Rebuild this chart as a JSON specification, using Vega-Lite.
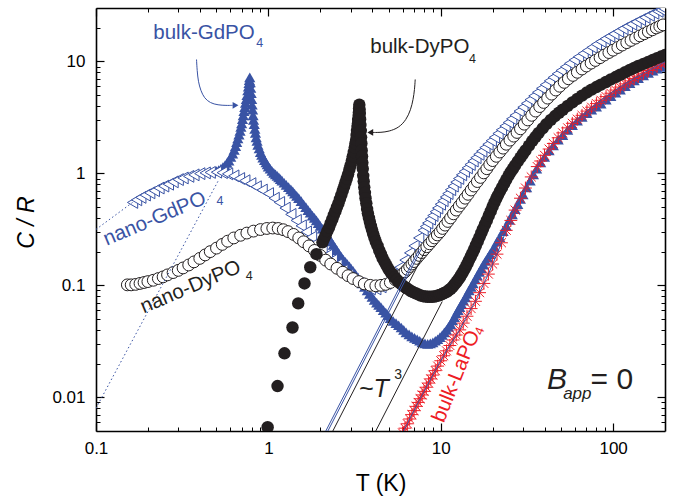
{
  "$schema": "https://vega.github.io/schema/vega-lite/v6.json",
  "width": 569,
  "height": 423,
  "autosize": {"type": "none"},
  "padding": {"left": 96, "top": 8, "right": 9, "bottom": 67},
  "background": "white",
  "config": {
    "view": {"stroke": null},
    "font": "Liberation Sans",
    "axis": {"grid": false, "labelFont": "Liberation Sans", "titleFont": "Liberation Sans", "labelColor": "black", "titleColor": "black", "tickColor": "black", "domainColor": "black", "labelFlush": false, "labelOverlap": false}
  },
  "resolve": {"axis": {"x": "independent", "y": "independent"}},
  "datasets": {
    "bulkGd": [
      {"T":0.50,"C":1.05},{"T":0.515,"C":1.07},{"T":0.53,"C":1.1},{"T":0.545,"C":1.14},{"T":0.56,"C":1.18},{"T":0.575,"C":1.24},{"T":0.59,"C":1.3},{"T":0.605,"C":1.4},{"T":0.62,"C":1.5},{"T":0.633,"C":1.62},{"T":0.645,"C":1.75},{"T":0.655,"C":1.9},{"T":0.665,"C":2.05},{"T":0.675,"C":2.22},{"T":0.685,"C":2.4},{"T":0.693,"C":2.6},{"T":0.70,"C":2.8},{"T":0.708,"C":3.05},{"T":0.715,"C":3.3},{"T":0.722,"C":3.6},{"T":0.73,"C":3.9},{"T":0.737,"C":4.25},{"T":0.745,"C":4.6},{"T":0.752,"C":5.0},{"T":0.76,"C":5.5},{"T":0.766,"C":5.95},{"T":0.772,"C":6.4},{"T":0.776,"C":6.8},{"T":0.78,"C":7.2},
      {"T":0.785,"C":6.5},{"T":0.79,"C":5.8},{"T":0.795,"C":5.2},{"T":0.8,"C":4.6},{"T":0.805,"C":4.1},{"T":0.81,"C":3.7},{"T":0.815,"C":3.3},{"T":0.82,"C":3.0},{"T":0.828,"C":2.75},{"T":0.835,"C":2.5},{"T":0.842,"C":2.3},{"T":0.85,"C":2.1},{"T":0.86,"C":1.95},{"T":0.87,"C":1.8},{"T":0.885,"C":1.67},{"T":0.9,"C":1.55},{"T":0.915,"C":1.46},{"T":0.93,"C":1.38},{"T":0.95,"C":1.31},{"T":0.97,"C":1.25},{"T":0.985,"C":1.2},{"T":1.0,"C":1.15},{"T":1.025,"C":1.1},{"T":1.05,"C":1.05},{"T":1.075,"C":1.01},{"T":1.1,"C":0.98},{"T":1.125,"C":0.95},{"T":1.15,"C":0.92},{"T":1.175,"C":0.89},{"T":1.2,"C":0.86},{"T":1.235,"C":0.825},{"T":1.27,"C":0.79},{"T":1.31,"C":0.755},{"T":1.35,"C":0.72},{"T":1.385,"C":0.69},{"T":1.42,"C":0.66},{"T":1.46,"C":0.63},{"T":1.5,"C":0.6},{"T":1.55,"C":0.565},{"T":1.6,"C":0.53},{"T":1.65,"C":0.5},{"T":1.7,"C":0.47},{"T":1.75,"C":0.445},{"T":1.8,"C":0.42},{"T":1.85,"C":0.4},{"T":1.9,"C":0.38},{"T":1.95,"C":0.36},{"T":2.0,"C":0.34},{"T":2.06,"C":0.32},{"T":2.12,"C":0.3},{"T":2.18,"C":0.282},{"T":2.25,"C":0.265},{"T":2.31,"C":0.247},{"T":2.38,"C":0.23},{"T":2.44,"C":0.217},{"T":2.5,"C":0.205},{"T":2.57,"C":0.192},{"T":2.65,"C":0.18},{"T":2.72,"C":0.17},{"T":2.8,"C":0.162},{"T":2.87,"C":0.155},{"T":2.95,"C":0.148},{"T":3.02,"C":0.141},{"T":3.1,"C":0.135},{"T":3.2,"C":0.126},{"T":3.3,"C":0.118},{"T":3.4,"C":0.111},{"T":3.5,"C":0.104},{"T":3.62,"C":0.097},{"T":3.75,"C":0.09},{"T":3.87,"C":0.084},{"T":4.0,"C":0.079},{"T":4.12,"C":0.074},{"T":4.25,"C":0.07},{"T":4.37,"C":0.067},{"T":4.5,"C":0.064},{"T":4.65,"C":0.06},{"T":4.8,"C":0.057},{"T":4.95,"C":0.054},{"T":5.1,"C":0.051},{"T":5.3,"C":0.048},{"T":5.5,"C":0.046},{"T":5.7,"C":0.044},{"T":5.9,"C":0.042},{"T":6.1,"C":0.04},{"T":6.3,"C":0.038},{"T":6.55,"C":0.0365},{"T":6.8,"C":0.035},{"T":7.05,"C":0.034},{"T":7.3,"C":0.033},{"T":7.55,"C":0.032},{"T":7.8,"C":0.031},{"T":8.1,"C":0.0303},{"T":8.4,"C":0.030},{"T":8.7,"C":0.0303},{"T":9.0,"C":0.031},{"T":9.3,"C":0.032},{"T":9.6,"C":0.033},{"T":9.9,"C":0.0345},{"T":10.2,"C":0.036},{"T":10.5,"C":0.038},{"T":10.8,"C":0.04},{"T":11.1,"C":0.0425},{"T":11.4,"C":0.045},{"T":11.7,"C":0.0485},{"T":12.0,"C":0.052},{"T":12.3,"C":0.056},{"T":12.6,"C":0.06},{"T":12.9,"C":0.064},{"T":13.2,"C":0.068},{"T":13.55,"C":0.073},{"T":13.9,"C":0.078},{"T":14.25,"C":0.084},{"T":14.6,"C":0.09},{"T":15.0,"C":0.097},{"T":15.4,"C":0.104},{"T":15.85,"C":0.113},{"T":16.3,"C":0.122},{"T":16.75,"C":0.132},{"T":17.2,"C":0.142},{"T":17.7,"C":0.153},{"T":18.2,"C":0.165},{"T":18.75,"C":0.177},{"T":19.3,"C":0.19},{"T":19.9,"C":0.205},{"T":20.5,"C":0.22},{"T":21.2,"C":0.245},{"T":22,"C":0.27},{"T":23,"C":0.305},{"T":24,"C":0.34},{"T":25,"C":0.385},{"T":26,"C":0.43},{"T":27,"C":0.48},{"T":28,"C":0.53},{"T":29,"C":0.59},{"T":30,"C":0.65},{"T":31.5,"C":0.75},{"T":33,"C":0.86},{"T":34.5,"C":0.98},{"T":36,"C":1.1},{"T":38,"C":1.25},{"T":40,"C":1.4},{"T":42.5,"C":1.6},{"T":45,"C":1.78},{"T":48,"C":2.0},{"T":51,"C":2.2},{"T":54.5,"C":2.45},{"T":58,"C":2.7},{"T":62,"C":2.95},{"T":66,"C":3.2},{"T":70.5,"C":3.45},{"T":75,"C":3.7},{"T":80,"C":3.95},{"T":85,"C":4.2},{"T":91,"C":4.55},{"T":97,"C":4.9},{"T":103.5,"C":5.25},{"T":110,"C":5.6},{"T":117.5,"C":6.0},{"T":125,"C":6.4},{"T":132.5,"C":6.75},{"T":140,"C":7.1},{"T":150,"C":7.5},{"T":160,"C":7.9},{"T":170,"C":8.25},{"T":180,"C":8.6},{"T":190,"C":8.95},{"T":200,"C":9.3}
    ],
    "laPO": [
      {"T":6.0,"C":0.0048},{"T":6.2,"C":0.0053},{"T":6.4,"C":0.0058},{"T":6.6,"C":0.0064},{"T":6.8,"C":0.007},{"T":7.0,"C":0.0076},{"T":7.2,"C":0.0083},{"T":7.4,"C":0.009},{"T":7.6,"C":0.0097},{"T":7.8,"C":0.0105},{"T":8.0,"C":0.0113},{"T":8.25,"C":0.0123},{"T":8.5,"C":0.0134},{"T":8.75,"C":0.0146},{"T":9.0,"C":0.0158},{"T":9.3,"C":0.0173},{"T":9.6,"C":0.019},{"T":10.0,"C":0.0212},{"T":10.4,"C":0.0235},{"T":10.8,"C":0.026},{"T":11.3,"C":0.029},{"T":11.8,"C":0.0325},{"T":12.3,"C":0.036},{"T":12.9,"C":0.04},{"T":13.5,"C":0.046},{"T":14.2,"C":0.053},{"T":15.0,"C":0.062},{"T":15.9,"C":0.072},{"T":16.8,"C":0.086},{"T":17.8,"C":0.104},{"T":18.9,"C":0.126},{"T":20.0,"C":0.155},{"T":21.2,"C":0.19},{"T":22.5,"C":0.24},{"T":24,"C":0.31},{"T":25.5,"C":0.38},{"T":27,"C":0.47},{"T":29,"C":0.6},{"T":31,"C":0.74},{"T":33.5,"C":0.93},{"T":36.3,"C":1.15},{"T":38,"C":1.29},{"T":40,"C":1.45},{"T":42.5,"C":1.65},{"T":45,"C":1.85},{"T":48,"C":2.08},{"T":51,"C":2.3},{"T":54.5,"C":2.55},{"T":58,"C":2.8},{"T":62,"C":3.05},{"T":66,"C":3.3},{"T":70.5,"C":3.6},{"T":75,"C":3.9},{"T":80,"C":4.2},{"T":85,"C":4.5},{"T":91,"C":4.85},{"T":97,"C":5.2},{"T":103.5,"C":5.55},{"T":110,"C":5.9},{"T":117.5,"C":6.3},{"T":125,"C":6.7},{"T":132.5,"C":7.05},{"T":140,"C":7.4},{"T":150,"C":7.85},{"T":160,"C":8.3},{"T":170,"C":8.7},{"T":180,"C":9.1},{"T":190,"C":9.5},{"T":200,"C":9.9}
    ],
    "nanoGd": [
      {"T":0.163,"C":0.55},{"T":0.172,"C":0.58},{"T":0.182,"C":0.61},{"T":0.193,"C":0.64},{"T":0.205,"C":0.67},{"T":0.218,"C":0.7},{"T":0.232,"C":0.74},{"T":0.247,"C":0.77},{"T":0.263,"C":0.8},{"T":0.28,"C":0.84},{"T":0.3,"C":0.88},{"T":0.32,"C":0.91},{"T":0.345,"C":0.94},{"T":0.37,"C":0.97},{"T":0.4,"C":0.995},{"T":0.43,"C":1.01},{"T":0.46,"C":1.02},{"T":0.5,"C":1.025},{"T":0.54,"C":1.015},{"T":0.58,"C":0.99},{"T":0.63,"C":0.95},{"T":0.68,"C":0.9},{"T":0.73,"C":0.86},{"T":0.79,"C":0.81},{"T":0.85,"C":0.76},{"T":0.92,"C":0.71},{"T":1.0,"C":0.66},{"T":1.08,"C":0.6},{"T":1.16,"C":0.55},{"T":1.25,"C":0.49},{"T":1.35,"C":0.43},{"T":1.45,"C":0.38},{"T":1.55,"C":0.34},{"T":1.66,"C":0.3},{"T":1.78,"C":0.27},{"T":1.9,"C":0.24},{"T":2.05,"C":0.21},{"T":2.2,"C":0.186},{"T":2.35,"C":0.168},{"T":2.5,"C":0.152},{"T":2.7,"C":0.136},{"T":2.9,"C":0.123},{"T":3.1,"C":0.113},{"T":3.35,"C":0.104},{"T":3.6,"C":0.097},{"T":3.9,"C":0.093},{"T":4.2,"C":0.093},{"T":4.5,"C":0.097},{"T":4.8,"C":0.104},{"T":5.1,"C":0.114},{"T":5.45,"C":0.128},{"T":5.8,"C":0.145},{"T":6.2,"C":0.168},{"T":6.6,"C":0.195},{"T":7.0,"C":0.225},{"T":7.45,"C":0.265},{"T":7.9,"C":0.31},{"T":8.15,"C":0.335},{"T":8.4,"C":0.36},{"T":8.7,"C":0.39},{"T":9.0,"C":0.42},{"T":9.3,"C":0.455},{"T":9.6,"C":0.49},{"T":9.95,"C":0.53},{"T":10.3,"C":0.57},{"T":10.65,"C":0.615},{"T":11,"C":0.66},{"T":11.4,"C":0.715},{"T":11.8,"C":0.77},{"T":12.25,"C":0.835},{"T":12.7,"C":0.9},{"T":13.2,"C":0.97},{"T":13.7,"C":1.04},{"T":14.25,"C":1.12},{"T":14.8,"C":1.2},{"T":15.4,"C":1.29},{"T":16,"C":1.38},{"T":16.65,"C":1.48},{"T":17.3,"C":1.58},{"T":18.05,"C":1.7},{"T":18.8,"C":1.82},{"T":19.65,"C":1.96},{"T":20.5,"C":2.1},{"T":21.5,"C":2.27},{"T":22.5,"C":2.45},{"T":23.6,"C":2.65},{"T":24.7,"C":2.85},{"T":25.8,"C":3.07},{"T":27,"C":3.3},{"T":28.5,"C":3.6},{"T":30,"C":3.9},{"T":31.5,"C":4.22},{"T":33,"C":4.55},{"T":34.7,"C":4.92},{"T":36.5,"C":5.3},{"T":38.5,"C":5.75},{"T":40.5,"C":6.2},{"T":42.7,"C":6.7},{"T":45,"C":7.2},{"T":47.5,"C":7.75},{"T":50,"C":8.3},{"T":53,"C":8.95},{"T":56,"C":9.6},{"T":59.5,"C":10.3},{"T":63,"C":11},{"T":67,"C":11.75},{"T":71,"C":12.5},{"T":75.5,"C":13.35},{"T":80,"C":14.2},{"T":85,"C":15.05},{"T":90,"C":15.9},{"T":95.5,"C":16.75},{"T":101,"C":17.6},{"T":107.5,"C":18.6},{"T":114,"C":19.6},{"T":121,"C":20.55},{"T":128,"C":21.5},{"T":136,"C":22.55},{"T":144,"C":23.6},{"T":153,"C":24.7},{"T":162,"C":25.8},{"T":172,"C":26.9},{"T":182,"C":28},{"T":190,"C":28.8},{"T":198,"C":29.5}
    ],
    "nanoDy": [
      {"T":0.152,"C":0.101},{"T":0.16,"C":0.101},{"T":0.17,"C":0.102},{"T":0.18,"C":0.104},{"T":0.19,"C":0.106},{"T":0.2,"C":0.108},{"T":0.215,"C":0.111},{"T":0.23,"C":0.115},{"T":0.245,"C":0.119},{"T":0.26,"C":0.124},{"T":0.28,"C":0.13},{"T":0.3,"C":0.136},{"T":0.32,"C":0.143},{"T":0.345,"C":0.152},{"T":0.37,"C":0.162},{"T":0.4,"C":0.174},{"T":0.43,"C":0.187},{"T":0.46,"C":0.2},{"T":0.5,"C":0.215},{"T":0.54,"C":0.232},{"T":0.58,"C":0.248},{"T":0.63,"C":0.265},{"T":0.69,"C":0.28},{"T":0.75,"C":0.293},{"T":0.82,"C":0.305},{"T":0.9,"C":0.315},{"T":0.98,"C":0.322},{"T":1.06,"C":0.325},{"T":1.14,"C":0.322},{"T":1.22,"C":0.314},{"T":1.3,"C":0.302},{"T":1.4,"C":0.285},{"T":1.5,"C":0.265},{"T":1.6,"C":0.245},{"T":1.72,"C":0.225},{"T":1.85,"C":0.205},{"T":2.0,"C":0.185},{"T":2.15,"C":0.168},{"T":2.3,"C":0.155},{"T":2.5,"C":0.142},{"T":2.7,"C":0.131},{"T":2.9,"C":0.122},{"T":3.1,"C":0.115},{"T":3.35,"C":0.108},{"T":3.6,"C":0.103},{"T":3.9,"C":0.1},{"T":4.2,"C":0.099},{"T":4.5,"C":0.1},{"T":4.8,"C":0.102},{"T":5.1,"C":0.106},{"T":5.45,"C":0.112},{"T":5.8,"C":0.12},{"T":6.0,"C":0.126},{"T":6.2,"C":0.132},{"T":6.4,"C":0.139},{"T":6.6,"C":0.147},{"T":6.8,"C":0.155},{"T":7.0,"C":0.163},{"T":7.25,"C":0.174},{"T":7.5,"C":0.185},{"T":7.75,"C":0.196},{"T":8.0,"C":0.208},{"T":8.3,"C":0.221},{"T":8.6,"C":0.235},{"T":8.9,"C":0.25},{"T":9.2,"C":0.265},{"T":9.55,"C":0.282},{"T":9.9,"C":0.3},{"T":10.25,"C":0.322},{"T":10.6,"C":0.345},{"T":11.0,"C":0.372},{"T":11.4,"C":0.4},{"T":11.85,"C":0.435},{"T":12.3,"C":0.47},{"T":12.8,"C":0.51},{"T":13.3,"C":0.55},{"T":13.85,"C":0.6},{"T":14.4,"C":0.65},{"T":15,"C":0.71},{"T":15.6,"C":0.77},{"T":16.3,"C":0.845},{"T":17,"C":0.92},{"T":17.75,"C":1.01},{"T":18.5,"C":1.1},{"T":19.25,"C":1.2},{"T":20,"C":1.3},{"T":21,"C":1.42},{"T":22,"C":1.55},{"T":23,"C":1.68},{"T":24,"C":1.82},{"T":25.2,"C":1.98},{"T":26.5,"C":2.15},{"T":27.7,"C":2.32},{"T":29,"C":2.5},{"T":30.5,"C":2.75},{"T":32,"C":3.0},{"T":33.7,"C":3.3},{"T":35.5,"C":3.6},{"T":37.5,"C":3.95},{"T":39.5,"C":4.3},{"T":41.7,"C":4.7},{"T":44,"C":5.1},{"T":46.5,"C":5.55},{"T":49,"C":6.0},{"T":52,"C":6.5},{"T":55,"C":7.0},{"T":58.5,"C":7.5},{"T":62,"C":8.0},{"T":66,"C":8.55},{"T":70,"C":9.1},{"T":74.5,"C":9.65},{"T":79,"C":10.2},{"T":84,"C":10.8},{"T":89,"C":11.4},{"T":94.5,"C":12.0},{"T":100,"C":12.6},{"T":106.5,"C":13.3},{"T":113,"C":14.0},{"T":120,"C":14.7},{"T":127,"C":15.4},{"T":135,"C":16.15},{"T":143,"C":16.9},{"T":151.5,"C":17.65},{"T":160,"C":18.4},{"T":169,"C":19.15},{"T":178,"C":19.9},{"T":186.5,"C":20.55},{"T":195,"C":21.2}
    ],
    "bulkDy": [
      {"T":0.99,"C":0.0054},{"T":1.13,"C":0.0126},{"T":1.24,"C":0.0247},{"T":1.38,"C":0.042},{"T":1.49,"C":0.069},{"T":1.62,"C":0.104},{"T":1.75,"C":0.145},{"T":1.9,"C":0.19},{"T":2.06,"C":0.242},{"T":2.1,"C":0.26},{"T":2.15,"C":0.28},{"T":2.2,"C":0.305},{"T":2.25,"C":0.33},{"T":2.3,"C":0.36},{"T":2.35,"C":0.39},{"T":2.4,"C":0.425},{"T":2.45,"C":0.46},{"T":2.5,"C":0.5},{"T":2.55,"C":0.54},{"T":2.6,"C":0.59},{"T":2.65,"C":0.64},{"T":2.7,"C":0.7},{"T":2.75,"C":0.76},{"T":2.8,"C":0.83},{"T":2.85,"C":0.9},{"T":2.9,"C":0.98},{"T":2.95,"C":1.08},{"T":3.0,"C":1.18},{"T":3.05,"C":1.3},{"T":3.09,"C":1.42},{"T":3.13,"C":1.55},{"T":3.17,"C":1.7},{"T":3.2,"C":1.85},{"T":3.23,"C":2.0},{"T":3.25,"C":2.2},{"T":3.27,"C":2.4},{"T":3.29,"C":2.6},{"T":3.31,"C":2.8},{"T":3.32,"C":3.0},{"T":3.34,"C":3.25},{"T":3.35,"C":3.5},{"T":3.36,"C":3.8},{"T":3.37,"C":4.1},{"T":3.385,"C":3.7},{"T":3.39,"C":3.4},{"T":3.405,"C":3.05},{"T":3.42,"C":2.7},{"T":3.435,"C":2.4},{"T":3.45,"C":2.1},{"T":3.465,"C":1.85},{"T":3.48,"C":1.6},{"T":3.495,"C":1.42},{"T":3.51,"C":1.25},{"T":3.53,"C":1.1},{"T":3.55,"C":0.95},{"T":3.575,"C":0.85},{"T":3.6,"C":0.75},{"T":3.63,"C":0.67},{"T":3.66,"C":0.6},{"T":3.7,"C":0.54},{"T":3.74,"C":0.48},{"T":3.78,"C":0.44},{"T":3.83,"C":0.4},{"T":3.88,"C":0.37},{"T":3.93,"C":0.34},{"T":3.99,"C":0.315},{"T":4.05,"C":0.29},{"T":4.12,"C":0.267},{"T":4.2,"C":0.245},{"T":4.3,"C":0.225},{"T":4.4,"C":0.205},{"T":4.5,"C":0.19},{"T":4.6,"C":0.175},{"T":4.72,"C":0.162},{"T":4.85,"C":0.15},{"T":4.97,"C":0.14},{"T":5.1,"C":0.132},{"T":5.25,"C":0.125},{"T":5.4,"C":0.118},{"T":5.57,"C":0.112},{"T":5.75,"C":0.106},{"T":5.92,"C":0.102},{"T":6.1,"C":0.098},{"T":6.3,"C":0.095},{"T":6.5,"C":0.092},{"T":6.7,"C":0.089},{"T":6.9,"C":0.087},{"T":7.15,"C":0.085},{"T":7.4,"C":0.083},{"T":7.65,"C":0.081},{"T":7.9,"C":0.08},{"T":8.15,"C":0.0795},{"T":8.4,"C":0.079},{"T":8.65,"C":0.079},{"T":8.9,"C":0.079},{"T":9.15,"C":0.0795},{"T":9.4,"C":0.08},{"T":9.65,"C":0.081},{"T":9.9,"C":0.082},{"T":10.15,"C":0.0835},{"T":10.4,"C":0.085},{"T":10.65,"C":0.0865},{"T":10.9,"C":0.088},{"T":11.15,"C":0.0905},{"T":11.4,"C":0.093},{"T":11.65,"C":0.096},{"T":11.9,"C":0.1},{"T":12.15,"C":0.104},{"T":12.4,"C":0.108},{"T":12.65,"C":0.113},{"T":12.9,"C":0.118},{"T":13.15,"C":0.124},{"T":13.4,"C":0.13},{"T":13.7,"C":0.138},{"T":14.0,"C":0.147},{"T":14.3,"C":0.157},{"T":14.6,"C":0.168},{"T":14.95,"C":0.181},{"T":15.3,"C":0.195},{"T":15.65,"C":0.21},{"T":16.0,"C":0.228},{"T":16.4,"C":0.248},{"T":16.8,"C":0.27},{"T":17.2,"C":0.294},{"T":17.6,"C":0.32},{"T":18.05,"C":0.35},{"T":18.5,"C":0.38},{"T":19.0,"C":0.42},{"T":19.5,"C":0.46},{"T":20.0,"C":0.505},{"T":20.5,"C":0.55},{"T":21.0,"C":0.595},{"T":21.5,"C":0.64},{"T":22.1,"C":0.695},{"T":22.7,"C":0.75},{"T":23.35,"C":0.815},{"T":24,"C":0.88},{"T":24.75,"C":0.955},{"T":25.5,"C":1.03},{"T":26.25,"C":1.1},{"T":27,"C":1.18},{"T":28,"C":1.28},{"T":29,"C":1.38},{"T":30,"C":1.49},{"T":31,"C":1.6},{"T":32.5,"C":1.77},{"T":34,"C":1.95},{"T":35.5,"C":2.12},{"T":37,"C":2.3},{"T":39,"C":2.52},{"T":41,"C":2.75},{"T":43.5,"C":3.0},{"T":46,"C":3.25},{"T":48.5,"C":3.48},{"T":51,"C":3.7},{"T":54.5,"C":4.0},{"T":58,"C":4.3},{"T":62,"C":4.62},{"T":66,"C":4.95},{"T":70.5,"C":5.28},{"T":75,"C":5.6},{"T":80,"C":5.9},{"T":85,"C":6.2},{"T":91,"C":6.55},{"T":97,"C":6.9},{"T":103.5,"C":7.25},{"T":110,"C":7.6},{"T":117.5,"C":8.0},{"T":125,"C":8.4},{"T":132.5,"C":8.75},{"T":140,"C":9.1},{"T":150,"C":9.5},{"T":160,"C":9.9},{"T":170,"C":10.3},{"T":180,"C":10.7},{"T":190,"C":11.05},{"T":200,"C":11.4}
    ]
  },
  "layer": [
    {
      "data": {"name": "bulkGd"},
      "mark": {"type": "point", "shape": "triangle-up", "filled": true, "fill": "#3953a4", "size": 125, "opacity": 1, "clip": true},
      "encoding": {
        "x": {"field": "T", "type": "quantitative", "scale": {"type": "log", "domain": [0.1, 200], "nice": false},
          "axis": {"orient": "bottom", "values": [0.1, 1, 10, 100], "format": "~g", "tickSize": -8, "tickWidth": 1.2, "labelPadding": 17, "labelFontSize": 17, "domain": true, "domainWidth": 1.6, "title": "T (K)", "titleFontSize": 23, "titleFontWeight": "normal", "titleX": 284.5, "titleY": 59, "titleBaseline": "alphabetic"}},
        "y": {"field": "C", "type": "quantitative", "scale": {"type": "log", "domain": [0.005, 30], "nice": false},
          "axis": {"orient": "left", "values": [0.01, 0.1, 1, 10], "format": "~g", "tickSize": -8, "tickWidth": 1.2, "labelPadding": 19, "labelFontSize": 17, "domain": true, "domainWidth": 1.6, "title": "C / R", "titleFontSize": 23, "titleFontWeight": "normal", "titleFontStyle": "italic", "titleX": -63, "titleY": 214, "titleBaseline": "alphabetic", "titleAngle": 270}}
      }
    },
    {
      "data": {"name": "laPO"},
      "mark": {"type": "point", "shape": "M-1,0L1,0M0,-1L0,1M-0.7,-0.7L0.7,0.7M-0.7,0.7L0.7,-0.7", "filled": false, "stroke": "#ee1c25", "strokeWidth": 1, "size": 165, "opacity": 1, "clip": true},
      "encoding": {
        "x": {"field": "T", "type": "quantitative",
          "axis": {"orient": "bottom", "values": [0.2,0.3,0.4,0.5,0.6,0.7,0.8,0.9,2,3,4,5,6,7,8,9,20,30,40,50,60,70,80,90], "tickSize": -4, "tickWidth": 1, "labels": false, "domain": false, "title": null}},
        "y": {"field": "C", "type": "quantitative",
          "axis": {"orient": "left", "values": [0.006,0.007,0.008,0.009,0.02,0.03,0.04,0.05,0.06,0.07,0.08,0.09,0.2,0.3,0.4,0.5,0.6,0.7,0.8,0.9,2,3,4,5,6,7,8,9,20], "tickSize": -4, "tickWidth": 1, "labels": false, "domain": false, "title": null}}
      }
    },
    {
      "data": {"name": "nanoGd"},
      "mark": {"type": "point", "shape": "triangle-left", "filled": true, "fill": "white", "stroke": "#3953a4", "strokeWidth": 1, "size": 140, "opacity": 1, "clip": true},
      "encoding": {
        "x": {"field": "T", "type": "quantitative",
          "axis": {"orient": "top", "values": [0.1, 1, 10, 100], "tickSize": -8, "tickWidth": 1.2, "labels": false, "domain": true, "domainWidth": 1.6, "title": null}},
        "y": {"field": "C", "type": "quantitative",
          "axis": {"orient": "right", "values": [0.01, 0.1, 1, 10], "tickSize": -8, "tickWidth": 1.2, "labels": false, "domain": true, "domainWidth": 1.6, "title": null}}
      }
    },
    {
      "data": {"name": "nanoDy"},
      "mark": {"type": "point", "shape": "circle", "filled": true, "fill": "white", "stroke": "#231f20", "strokeWidth": 1, "size": 140, "opacity": 1, "clip": true},
      "encoding": {
        "x": {"field": "T", "type": "quantitative",
          "axis": {"orient": "top", "values": [0.2,0.3,0.4,0.5,0.6,0.7,0.8,0.9,2,3,4,5,6,7,8,9,20,30,40,50,60,70,80,90], "tickSize": -4, "tickWidth": 1, "labels": false, "domain": false, "title": null}},
        "y": {"field": "C", "type": "quantitative",
          "axis": {"orient": "right", "values": [0.006,0.007,0.008,0.009,0.02,0.03,0.04,0.05,0.06,0.07,0.08,0.09,0.2,0.3,0.4,0.5,0.6,0.7,0.8,0.9,2,3,4,5,6,7,8,9,20], "tickSize": -4, "tickWidth": 1, "labels": false, "domain": false, "title": null}}
      }
    },
    {
      "data": {"name": "bulkDy"},
      "mark": {"type": "point", "shape": "circle", "filled": true, "fill": "#231f20", "size": 155, "opacity": 1, "clip": true},
      "encoding": {
        "x": {"field": "T", "type": "quantitative", "axis": null},
        "y": {"field": "C", "type": "quantitative", "axis": null}
      }
    },
    {
      "data": {"name": "laPO"},
      "mark": {"type": "line", "color": "#3953a4", "strokeWidth": 1, "clip": true},
      "encoding": {
        "x": {"field": "T", "type": "quantitative", "axis": null},
        "y": {"field": "C", "type": "quantitative", "axis": null}
      }
    },
    {
      "data": {"values": [{"T": 2.14, "C": 0.0049}, {"T": 7.5, "C": 0.211}]},
      "mark": {"type": "line", "color": "#3953a4", "strokeWidth": 1, "clip": true},
      "encoding": {"x": {"field": "T", "type": "quantitative", "axis": null}, "y": {"field": "C", "type": "quantitative", "axis": null}}
    },
    {
      "data": {"values": [{"T": 2.2, "C": 0.0049}, {"T": 7.7, "C": 0.21}]},
      "mark": {"type": "line", "color": "#3953a4", "strokeWidth": 1, "clip": true},
      "encoding": {"x": {"field": "T", "type": "quantitative", "axis": null}, "y": {"field": "C", "type": "quantitative", "axis": null}}
    },
    {
      "data": {"values": [{"T": 2.35, "C": 0.0049}, {"T": 8.2, "C": 0.208}]},
      "mark": {"type": "line", "color": "#231f20", "strokeWidth": 1, "clip": true},
      "encoding": {"x": {"field": "T", "type": "quantitative", "axis": null}, "y": {"field": "C", "type": "quantitative", "axis": null}}
    },
    {
      "data": {"values": [{"T": 4.17, "C": 0.0049}, {"T": 10.2, "C": 0.0717}]},
      "mark": {"type": "line", "color": "#231f20", "strokeWidth": 1, "clip": true},
      "encoding": {"x": {"field": "T", "type": "quantitative", "axis": null}, "y": {"field": "C", "type": "quantitative", "axis": null}}
    },
    {
      "data": {"values": [{"T": 0.1, "C": 0.316}, {"T": 0.163, "C": 0.55}]},
      "mark": {"type": "line", "color": "#3953a4", "strokeWidth": 1, "strokeDash": [1.5, 2.5], "clip": true},
      "encoding": {"x": {"field": "T", "type": "quantitative", "axis": null}, "y": {"field": "C", "type": "quantitative", "axis": null}}
    },
    {
      "data": {"values": [{"T": 0.1, "C": 0.008}, {"T": 0.51, "C": 0.85}]},
      "mark": {"type": "line", "color": "#3953a4", "strokeWidth": 1, "strokeDash": [1.5, 2.5], "clip": true},
      "encoding": {"x": {"field": "T", "type": "quantitative", "axis": null}, "y": {"field": "C", "type": "quantitative", "axis": null}}
    },
    {
      "data": {"values": [{"T": 0.383, "C": 10.4}, {"T": 0.386, "C": 8.3}, {"T": 0.392, "C": 6.6}, {"T": 0.405, "C": 5.5}, {"T": 0.425, "C": 4.7}, {"T": 0.46, "C": 4.25}, {"T": 0.51, "C": 4.08}, {"T": 0.57, "C": 4.04}, {"T": 0.62, "C": 4.05}]},
      "mark": {"type": "line", "color": "#3953a4", "strokeWidth": 1, "interpolate": "basis"},
      "encoding": {"x": {"field": "T", "type": "quantitative", "axis": null}, "y": {"field": "C", "type": "quantitative", "axis": null}}
    },
    {
      "data": {"values": [{"T": 0.645, "C": 4.05}]},
      "mark": {"type": "point", "shape": "triangle-right", "filled": true, "fill": "#3953a4", "size": 45, "opacity": 1},
      "encoding": {"x": {"field": "T", "type": "quantitative", "axis": null}, "y": {"field": "C", "type": "quantitative", "axis": null}}
    },
    {
      "data": {"values": [{"T": 7.11, "C": 6.9}, {"T": 7.05, "C": 5.6}, {"T": 6.92, "C": 4.58}, {"T": 6.7, "C": 3.7}, {"T": 6.3, "C": 3.0}, {"T": 5.7, "C": 2.55}, {"T": 5.0, "C": 2.37}, {"T": 4.5, "C": 2.32}, {"T": 4.05, "C": 2.32}]},
      "mark": {"type": "line", "color": "#231f20", "strokeWidth": 1, "interpolate": "basis"},
      "encoding": {"x": {"field": "T", "type": "quantitative", "axis": null}, "y": {"field": "C", "type": "quantitative", "axis": null}}
    },
    {
      "data": {"values": [{"T": 3.9, "C": 2.32}]},
      "mark": {"type": "point", "shape": "triangle-left", "filled": true, "fill": "#231f20", "size": 45, "opacity": 1},
      "encoding": {"x": {"field": "T", "type": "quantitative", "axis": null}, "y": {"field": "C", "type": "quantitative", "axis": null}}
    },
    {
      "data": {"values": [{"T": 0.215, "C": 15.7, "t": "bulk-GdPO"}]},
      "mark": {"type": "text", "align": "left", "baseline": "alphabetic", "fontSize": 20.5, "color": "#3953a4", "font": "Liberation Sans"},
      "encoding": {"x": {"field": "T", "type": "quantitative", "axis": null}, "y": {"field": "C", "type": "quantitative", "axis": null}, "text": {"field": "t"}}
    },
    {
      "data": {"values": [{"T": 0.85, "C": 13.4, "t": "4"}, {"T": 0.5, "C": 0.52, "t": "4"}]},
      "mark": {"type": "text", "align": "left", "baseline": "alphabetic", "fontSize": 12.5, "color": "#3953a4", "font": "Liberation Sans"},
      "encoding": {"x": {"field": "T", "type": "quantitative", "axis": null}, "y": {"field": "C", "type": "quantitative", "axis": null}, "text": {"field": "t"}}
    },
    {
      "data": {"values": [{"T": 3.9, "C": 12.0, "t": "bulk-DyPO"}]},
      "mark": {"type": "text", "align": "left", "baseline": "alphabetic", "fontSize": 20.5, "color": "#231f20", "font": "Liberation Sans"},
      "encoding": {"x": {"field": "T", "type": "quantitative", "axis": null}, "y": {"field": "C", "type": "quantitative", "axis": null}, "text": {"field": "t"}}
    },
    {
      "data": {"values": [{"T": 14.6, "C": 9.6, "t": "4"}, {"T": 0.74, "C": 0.112, "t": "4"}]},
      "mark": {"type": "text", "align": "left", "baseline": "alphabetic", "fontSize": 12.5, "color": "#231f20", "font": "Liberation Sans"},
      "encoding": {"x": {"field": "T", "type": "quantitative", "axis": null}, "y": {"field": "C", "type": "quantitative", "axis": null}, "text": {"field": "t"}}
    },
    {
      "data": {"values": [{"T": 0.226, "C": 0.35, "t": "nano-GdPO"}]},
      "mark": {"type": "text", "align": "center", "baseline": "alphabetic", "angle": 337, "fontSize": 20.5, "color": "#3953a4", "font": "Liberation Sans"},
      "encoding": {"x": {"field": "T", "type": "quantitative", "axis": null}, "y": {"field": "C", "type": "quantitative", "axis": null}, "text": {"field": "t"}}
    },
    {
      "data": {"values": [{"T": 0.365, "C": 0.086, "t": "nano-DyPO"}]},
      "mark": {"type": "text", "align": "center", "baseline": "alphabetic", "angle": 337, "fontSize": 20.5, "color": "#231f20", "font": "Liberation Sans"},
      "encoding": {"x": {"field": "T", "type": "quantitative", "axis": null}, "y": {"field": "C", "type": "quantitative", "axis": null}, "text": {"field": "t"}}
    },
    {
      "data": {"values": [{"T": 12.3, "C": 0.0154, "t": "bulk-LaPO"}]},
      "mark": {"type": "text", "align": "center", "baseline": "middle", "angle": 292, "fontSize": 20.5, "color": "#ee1c25", "font": "Liberation Sans"},
      "encoding": {"x": {"field": "T", "type": "quantitative", "axis": null}, "y": {"field": "C", "type": "quantitative", "axis": null}, "text": {"field": "t"}}
    },
    {
      "data": {"values": [{"T": 16.8, "C": 0.039, "t": "4"}]},
      "mark": {"type": "text", "align": "center", "baseline": "middle", "angle": 292, "fontSize": 12.5, "color": "#ee1c25", "font": "Liberation Sans"},
      "encoding": {"x": {"field": "T", "type": "quantitative", "axis": null}, "y": {"field": "C", "type": "quantitative", "axis": null}, "text": {"field": "t"}}
    },
    {
      "data": {"values": [{"T": 3.35, "C": 0.01, "t": "~T"}]},
      "mark": {"type": "text", "align": "left", "baseline": "alphabetic", "fontSize": 25, "fontStyle": "italic", "color": "#231f20", "font": "Liberation Sans"},
      "encoding": {"x": {"field": "T", "type": "quantitative", "axis": null}, "y": {"field": "C", "type": "quantitative", "axis": null}, "text": {"field": "t"}}
    },
    {
      "data": {"values": [{"T": 5.37, "C": 0.0145, "t": "3"}]},
      "mark": {"type": "text", "align": "left", "baseline": "alphabetic", "fontSize": 14, "color": "#231f20", "font": "Liberation Sans"},
      "encoding": {"x": {"field": "T", "type": "quantitative", "axis": null}, "y": {"field": "C", "type": "quantitative", "axis": null}, "text": {"field": "t"}}
    },
    {
      "data": {"values": [{"T": 41.4, "C": 0.0118, "t": "B"}]},
      "mark": {"type": "text", "align": "left", "baseline": "alphabetic", "fontSize": 30, "fontStyle": "italic", "color": "#231f20", "font": "Liberation Sans"},
      "encoding": {"x": {"field": "T", "type": "quantitative", "axis": null}, "y": {"field": "C", "type": "quantitative", "axis": null}, "text": {"field": "t"}}
    },
    {
      "data": {"values": [{"T": 51.3, "C": 0.0096, "t": "app"}]},
      "mark": {"type": "text", "align": "left", "baseline": "alphabetic", "fontSize": 17, "fontStyle": "italic", "color": "#231f20", "font": "Liberation Sans"},
      "encoding": {"x": {"field": "T", "type": "quantitative", "axis": null}, "y": {"field": "C", "type": "quantitative", "axis": null}, "text": {"field": "t"}}
    },
    {
      "data": {"values": [{"T": 74, "C": 0.0118, "t": "= 0"}]},
      "mark": {"type": "text", "align": "left", "baseline": "alphabetic", "fontSize": 30, "color": "#231f20", "font": "Liberation Sans"},
      "encoding": {"x": {"field": "T", "type": "quantitative", "axis": null}, "y": {"field": "C", "type": "quantitative", "axis": null}, "text": {"field": "t"}}
    }
  ]
}
